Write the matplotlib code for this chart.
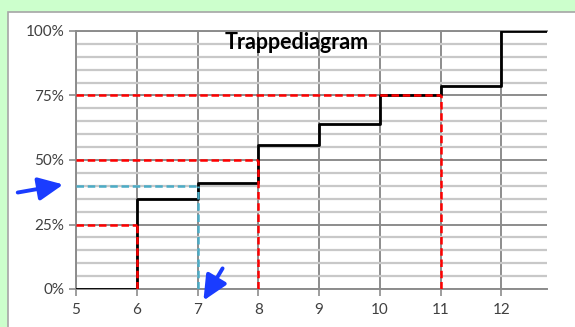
import matplotlib
matplotlib.use("Agg")
import matplotlib.pyplot as plt
from matplotlib.patches import Rectangle, FancyArrowPatch
from matplotlib.ticker import FuncFormatter, MultipleLocator

# cumulative share per value (step curve)
x_steps = [5, 6, 7, 8, 9, 10, 11, 12, 12.75]
y_steps = [0.0, 0.35, 0.41, 0.56, 0.64, 0.75, 0.785, 1.0, 1.0]

# quartile guide lines (level, x where it meets the curve)
quartiles = [(0.25, 6), (0.50, 8), (0.75, 11)]
# the read-off example
example = (0.40, 7)

x_ticks = [5, 6, 7, 8, 9, 10, 11, 12]
y_ticks = [0, 0.25, 0.5, 0.75, 1.0]

plt.rcParams['font.family'] = ['Lato', 'DejaVu Sans']

W, H = 575, 327
fig = plt.figure(figsize=(W / 100, H / 100), dpi=100)
fig.patch.set_facecolor('#ccffcc')

# white chart frame
fig.patches.append(Rectangle((8 / W, -0.05), 1.0, 1 - 12 / H + 0.05,
                             transform=fig.transFigure, facecolor='white',
                             edgecolor='#a6a6a6', linewidth=1.2, zorder=-1))

ax = fig.add_axes([76 / W, 1 - 289 / H, (547 - 76) / W, (289 - 31) / H])
ax.set_zorder(1)
ax.set_facecolor('none')
ax.set_xlim(5, 12.75)
ax.set_ylim(0, 1)

ax.set_xticks(x_ticks)
ax.set_yticks(y_ticks)
ax.yaxis.set_minor_locator(MultipleLocator(0.05))
ax.yaxis.set_major_formatter(FuncFormatter(lambda v, p: f"{v:.0%}"))
ax.set_axisbelow(True)

ax.grid(axis='y', which='minor', color='#c8c8c8', linewidth=1.6)
ax.grid(axis='y', which='major', color='#8c8c8c', linewidth=1.4)
ax.grid(axis='x', which='major', color='#8c8c8c', linewidth=1.4)

ax.spines['right'].set_visible(False)
for s in ['left', 'bottom', 'top']:
    ax.spines[s].set_color('#8c8c8c')
    ax.spines[s].set_linewidth(1.4)

ax.tick_params(axis='both', which='major', length=5, color='#8c8c8c', width=1.2,
               labelsize=11, labelcolor='#404040')
ax.tick_params(axis='y', which='minor', length=0)
ax.tick_params(axis='x', pad=5)

ax.step(x_steps, y_steps, where='post', color='black', linewidth=2, zorder=3)

for level, xv in quartiles:
    ax.plot([5, xv], [level, level], color='#ff0000', linewidth=1.8,
            dashes=(3, 1.5), zorder=4)
    ax.plot([xv, xv], [0, level], color='#ff0000', linewidth=1.8,
            dashes=(3, 1.5), zorder=4)

lvl, xv = example
ax.plot([5, xv], [lvl, lvl], color='#4bacc6', linewidth=1.8, dashes=(3, 1.5), zorder=4)
ax.plot([xv, xv], [0, lvl], color='#4bacc6', linewidth=1.8, dashes=(3, 1.5), zorder=4)

ax.text(0.469, 0.955, 'Trappediagram', transform=ax.transAxes, ha='center',
        va='center', fontsize=15.5, fontweight='bold', color='black', zorder=5)

# blue arrows pointing at the read-off values
for (x0, y0), (x1, y1) in [((15, 193), (66, 184)), ((224, 266), (202, 303))]:
    arr = FancyArrowPatch((x0, H - y0), (x1, H - y1), transform=None,
                          arrowstyle='-|>,head_length=15,head_width=7',
                          color='#1a3cff', linewidth=2.8, mutation_scale=1,
                          zorder=6)
    fig.patches.append(arr)

fig.savefig('out.png', dpi=100, facecolor=fig.get_facecolor())
